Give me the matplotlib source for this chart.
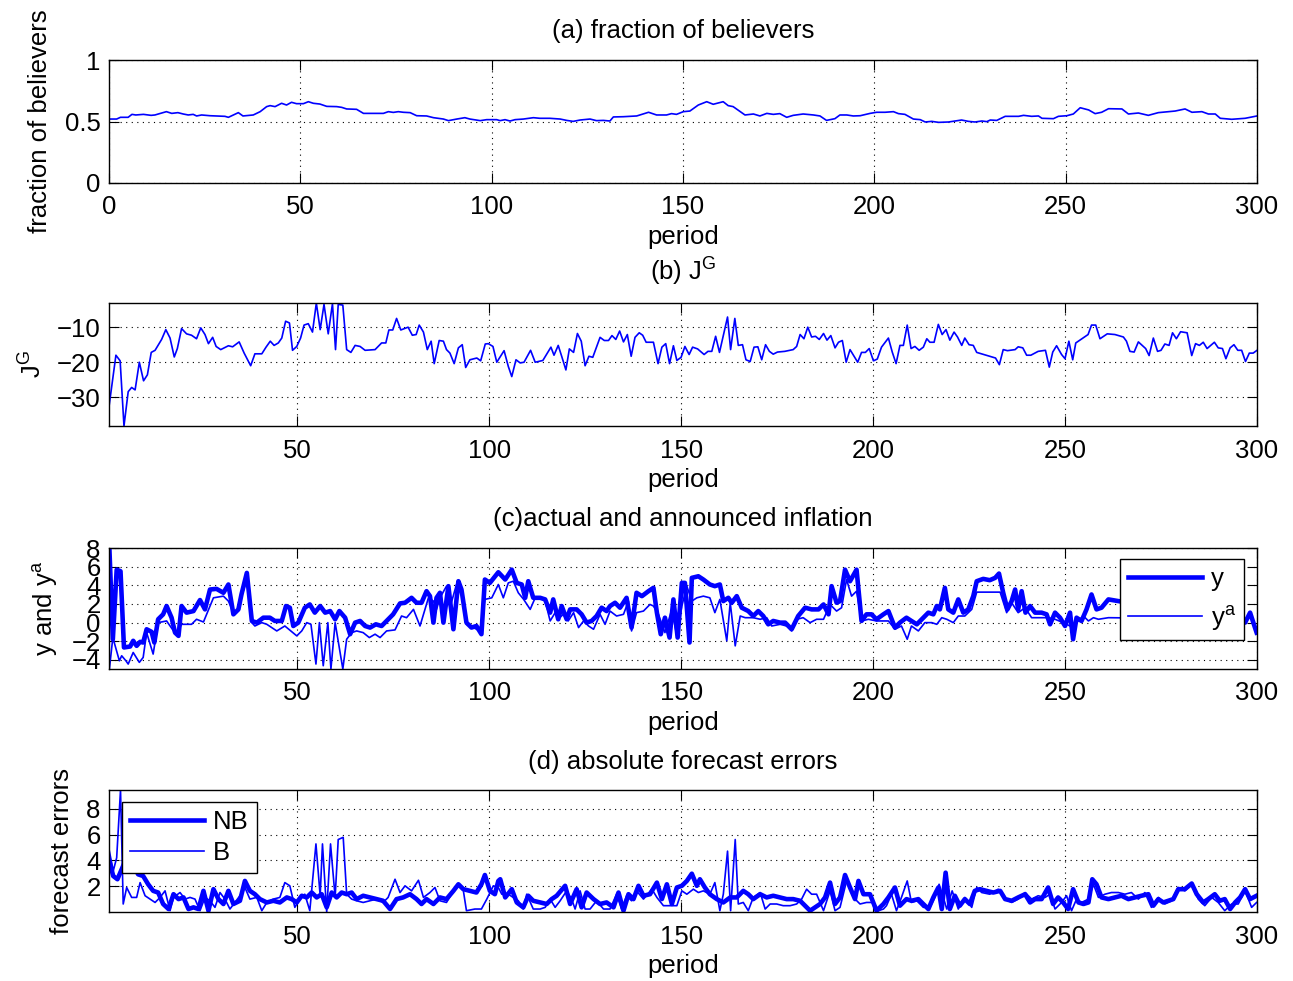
import matplotlib
matplotlib.use('AGG')
import matplotlib.pyplot as plt

# ---- data (period, value) ----
believers = [
    (0, 0.52), (2, 0.52), (3, 0.534), (5, 0.534), (6, 0.558), (7, 0.553), (9, 0.558), (11, 0.55), (12, 0.553), (15, 0.58),
    (16.4, 0.566), (18, 0.572), (19.4, 0.561), (20.7, 0.553), (22, 0.558), (22.9, 0.545), (24.2, 0.553), (26.4, 0.547), (30.3, 0.542), (31.2, 0.534),
    (33.8, 0.572), (35, 0.545), (37.7, 0.553), (39.5, 0.58), (41.2, 0.621), (42.1, 0.629), (43.4, 0.621), (45.1, 0.648), (46.4, 0.634), (47.7, 0.656),
    (49, 0.645), (50.8, 0.645), (52.1, 0.661), (53.4, 0.648), (55.1, 0.642), (56.9, 0.623), (59.5, 0.621), (60.8, 0.615), (62.1, 0.602), (64.7, 0.599),
    (66.5, 0.566), (71.7, 0.566), (73, 0.58), (74.3, 0.574), (75.6, 0.58), (76.9, 0.575), (78.7, 0.572), (80.4, 0.547), (83, 0.545), (84.8, 0.531),
    (87.4, 0.52), (88.7, 0.507), (90.9, 0.52), (93, 0.531), (94.3, 0.52), (97, 0.507), (98.7, 0.515), (101.3, 0.515), (102.2, 0.507), (103.5, 0.515),
    (104.8, 0.504), (106.1, 0.515), (108.3, 0.52), (110.9, 0.531), (112.6, 0.526), (115.2, 0.526), (117.9, 0.52), (119.6, 0.509), (121.3, 0.501), (123.1, 0.512),
    (125.7, 0.52), (127.4, 0.507), (129.2, 0.509), (130.9, 0.504), (131.8, 0.537), (134.4, 0.539), (137.9, 0.545), (141, 0.575), (143.1, 0.553), (145.7, 0.553),
    (147, 0.564), (148.3, 0.558), (150.1, 0.58), (151.8, 0.585), (154, 0.634), (156.2, 0.661), (157.9, 0.64), (160.5, 0.661), (161.8, 0.629), (163.1, 0.621),
    (166.2, 0.553), (168.4, 0.561), (170.1, 0.545), (171.9, 0.566), (173.6, 0.558), (175.3, 0.564), (177.1, 0.534), (178.8, 0.55), (181.4, 0.561), (184.1, 0.553),
    (185.8, 0.545), (187.5, 0.509), (189.7, 0.523), (191, 0.553), (192.8, 0.553), (194.5, 0.545), (196.3, 0.547), (198.9, 0.566), (200.6, 0.575), (202.8, 0.575),
    (205, 0.58), (206.3, 0.564), (208, 0.558), (210.2, 0.52), (212, 0.515), (213.3, 0.496), (215, 0.501), (216.8, 0.493), (219.4, 0.496), (222.8, 0.512),
    (224.6, 0.501), (226.3, 0.496), (228.1, 0.504), (229.4, 0.499), (230.3, 0.512), (232, 0.509), (234.2, 0.542), (237.7, 0.542), (239, 0.55), (241.1, 0.542),
    (242.9, 0.545), (243.8, 0.526), (246.8, 0.523), (248.1, 0.542), (250.3, 0.547), (252, 0.561), (253.8, 0.612), (256, 0.594), (257.7, 0.564), (259.4, 0.575),
    (261.2, 0.604), (264.7, 0.602), (266.4, 0.561), (269, 0.569), (271.6, 0.55), (274.2, 0.572), (276.9, 0.58), (278.6, 0.585), (281.2, 0.602), (283, 0.575),
    (285.6, 0.58), (287.3, 0.561), (289.1, 0.561), (290.4, 0.526), (293.4, 0.518), (296.9, 0.526), (299.5, 0.542), (300, 0.545),
]

jg = [
    (1, -32.7), (2.8, -18.0), (3.9, -19.6), (4.9, -38.2), (6.0, -28.4), (6.9, -27.2), (7.8, -27.9), (8.9, -20.0), (10, -25.3), (11, -23.6),
    (12, -17.2), (13, -16.6), (14.7, -13.5), (15.8, -10.7), (16.9, -13.1), (18, -18.5), (18.8, -16.1), (19.9, -10.4), (21.2, -11.9), (22.5, -12.3),
    (23.8, -13.3), (24.9, -10.2), (26, -12.1), (26.9, -14.7), (28, -12.9), (28.9, -15.5), (30.1, -16.4), (32.1, -15.3), (33.2, -15.6), (34.9, -14.2),
    (36.2, -17.4), (37.9, -21.0), (39, -17.6), (40.8, -17.6), (41.9, -15.7), (43, -14.0), (44, -15.2), (45.1, -14.5), (46, -13.1), (47, -8.3),
    (48, -8.8), (48.8, -16.6), (49.9, -15.5), (50.9, -13.1), (51.8, -9.4), (52.9, -9.0), (54, -11.4), (55, -3.1), (56, -10.7), (57, -3.5),
    (58.1, -11.9), (59.2, -3.3), (60, -16.4), (60.7, -3.5), (61.9, -3.7), (62.9, -16.4), (64, -17.2), (65.1, -15.2), (66.4, -15.5), (67.7, -16.6),
    (70.3, -16.4), (72, -14.5), (73.1, -14.5), (73.9, -10.8), (74.9, -10.8), (75.9, -7.5), (77, -10.8), (78.9, -10.0), (80, -12.3), (81, -12.1),
    (81.8, -9.4), (82.9, -11.4), (83.9, -16.4), (84.9, -14.0), (85.7, -20.4), (87, -13.8), (88.1, -14.0), (88.9, -16.4), (89.8, -17.4), (90.9, -20.4),
    (92, -15.9), (93, -15.0), (93.9, -21.5), (95, -19.3), (96.8, -18.8), (97.8, -19.6), (99, -14.8), (99.8, -14.7), (101, -15.5), (102, -20.0),
    (103.9, -16.7), (105, -21.2), (105.9, -24.1), (107, -19.3), (108.1, -20.2), (109.1, -20.0), (110.8, -16.6), (112, -20.0), (114, -19.5), (115, -17.7),
    (116.1, -15.7), (116.9, -18.0), (118, -15.2), (118.9, -18.3), (120, -22.2), (120.9, -16.2), (122, -17.2), (123, -11.8), (124, -14.0), (125, -21.0),
    (126, -18.3), (127, -18.6), (128.9, -12.9), (130, -13.8), (131.1, -13.8), (132, -12.4), (133, -13.5), (134, -11.1), (135, -14.2), (136, -12.1),
    (137, -18.3), (138, -12.9), (139.1, -11.6), (140, -12.3), (140.9, -14.3), (142.8, -14.3), (144, -20.4), (145, -15.7), (146, -14.7), (147, -20.4),
    (148, -15.3), (148.9, -19.5), (150, -18.6), (151, -15.5), (152.1, -17.8), (153, -15.7), (154.3, -16.2), (156, -17.8), (157, -16.9), (158, -16.9),
    (159, -12.6), (160, -17.2), (162.1, -7.1), (162.9, -16.4), (164, -7.5), (164.9, -15.2), (166, -15.0), (166.9, -19.3), (168, -19.8), (169, -15.7),
    (170, -15.6), (171, -19.3), (172, -15.0), (173, -16.9), (174, -17.7), (175.1, -17.1), (177, -16.9), (179.2, -16.4), (180.1, -15.5), (181, -12.1),
    (182, -13.3), (183, -10.0), (184, -12.8), (185, -12.6), (186, -13.5), (187.1, -11.8), (188, -13.7), (189, -12.4), (190.1, -15.9), (191, -14.3),
    (192, -13.8), (193, -20.0), (194, -16.4), (196, -20.0), (197, -17.2), (198, -17.2), (199, -16.1), (200.1, -19.6), (201.1, -19.1), (202.2, -15.7),
    (204, -13.1), (205, -17.1), (206, -20.4), (207, -15.2), (207.9, -15.2), (208.9, -9.4), (209.9, -16.1), (210.9, -15.5), (212, -16.6), (213.1, -15.7),
    (214, -13.3), (214.8, -14.3), (215.9, -14.3), (217, -9.2), (218, -12.1), (219, -10.7), (220, -13.7), (221.1, -11.4), (222, -12.8), (223.1, -15.2),
    (223.9, -13.1), (225, -15.0), (226.1, -15.2), (227, -17.2), (231.9, -18.8), (232.9, -20.7), (233.9, -16.4), (235, -16.7), (237, -16.4), (237.8, -15.6),
    (239, -15.9), (240, -18.0), (241.1, -18.0), (243, -16.9), (244.9, -16.6), (245.9, -21.4), (246.8, -17.1), (247.8, -15.3), (249.1, -17.8), (250, -19.0),
    (251, -14.0), (252, -19.3), (252.8, -14.5), (256, -12.1), (256.9, -9.4), (258, -9.4), (259.1, -13.3), (261, -11.9), (263, -12.1), (265.2, -12.8),
    (266, -14.0), (266.9, -16.9), (268, -17.1), (269.1, -14.2), (269.9, -15.0), (271, -16.1), (271.9, -18.1), (273, -13.1), (274.1, -16.9), (275, -16.6),
    (276, -14.8), (277.1, -15.2), (278, -11.6), (279, -13.3), (280.1, -11.3), (281.8, -11.6), (283, -18.1), (284, -14.7), (285, -15.2), (286, -14.3),
    (287, -16.1), (288.9, -14.3), (289.9, -15.9), (291, -16.1), (291.9, -19.0), (293, -15.9), (294, -15.0), (295, -16.6), (296, -16.6), (297, -19.8),
    (298, -17.4), (299, -17.4), (300, -16.6),
]

infl_y = [
    (1.1, 7.99), (2.0, -1.78), (3.0, 5.68), (4.0, 5.51), (4.9, -2.66), (6.5, -2.56), (7.3, -1.95), (8.2, -2.49), (9.1, -2.06), (9.9, -2.13),
    (10.8, -0.71), (12.1, -0.99), (12.8, -2.13), (13.8, 0.36), (15.1, 0.89), (16.0, 1.78), (17.3, 0.53), (18.2, -1.07), (19.1, -1.42), (19.9, 1.78),
    (21.2, 1.07), (23.0, 1.24), (24.7, 2.42), (26.0, 1.42), (27.3, 3.55), (29.0, 3.62), (30.8, 3.20), (32.1, 4.09), (33.4, 0.89), (34.7, 1.42),
    (35.5, 3.02), (36.9, 5.33), (38.2, 0.18), (39.5, 0.0), (41.2, 0.53), (42.9, 0.53), (44.2, 0.18), (46.0, 0.18), (47.1, 1.78), (48.1, 1.60),
    (49.0, -0.36), (50.3, 0.0), (52.0, 1.60), (53.3, 1.95), (54.6, 1.07), (56.0, 1.78), (57.3, 1.07), (58.6, 1.24), (59.9, 0.36), (61.0, 1.24),
    (62.5, 0.53), (63.8, -1.24), (65.1, 0.0), (66.4, 0.18), (67.7, -0.36), (69.0, -0.53), (70.5, -0.18), (72.0, -0.36), (73.3, 0.18), (75.0, 0.89),
    (76.8, 2.06), (78.1, 2.13), (79.8, 2.66), (81.1, 2.13), (82.4, 2.13), (83.7, 3.37), (84.6, 2.84), (85.5, 0.0), (86.3, 2.66), (87.2, 3.20),
    (88.1, 0.0), (89.4, 3.91), (90.7, -0.71), (92.0, 4.44), (92.8, 3.55), (94.1, 0.0), (95.4, -0.53), (96.7, -0.36), (98.0, -1.24), (98.9, 4.62),
    (100.2, 4.26), (102.4, 5.40), (104.2, 4.62), (105.9, 5.68), (107.2, 4.26), (108.5, 4.09), (109.4, 2.66), (110.2, 4.44), (111.5, 2.66), (113.3, 2.66),
    (114.6, 2.49), (115.9, 1.07), (116.7, 2.49), (118.0, 0.36), (118.9, 1.78), (120.2, 0.36), (121.1, 1.42), (122.8, 1.42), (124.1, 0.89), (125.4, 0.0),
    (126.7, 0.18), (128.0, 0.71), (129.3, 1.60), (130.6, 1.24), (131.5, 1.78), (132.8, 2.13), (134.1, 1.60), (135.8, 2.66), (137.1, -0.53), (138.4, 3.20),
    (139.8, 2.84), (141.5, 3.37), (142.8, 3.73), (143.7, 1.07), (144.7, -1.24), (145.8, 0.53), (147.0, -1.60), (148.0, 2.49), (149.1, -1.60), (150.2, 4.26),
    (151.0, 4.26), (152.2, -2.13), (152.8, 4.80), (154.5, 4.97), (155.8, 4.62), (157.5, 4.09), (158.8, 3.91), (160.1, 4.09), (161.0, 2.31), (162.3, 2.66),
    (163.2, 2.13), (164.5, 2.84), (165.8, 1.60), (167.5, 1.24), (168.8, 0.71), (170.1, 1.24), (171.4, 0.71), (172.7, -0.18), (174.0, 0.18), (175.8, 0.0),
    (177.1, 0.0), (178.8, -0.71), (180.5, 0.71), (182.3, 1.60), (184.0, 1.42), (185.8, 1.42), (187.1, 1.95), (188.4, 0.89), (189.2, 3.91), (190.5, 2.13),
    (191.4, 2.31), (192.7, 5.68), (194.0, 4.44), (195.7, 5.68), (197.0, 0.18), (198.3, 0.89), (199.6, 0.89), (200.9, 0.36), (202.7, 0.89), (204.0, 1.24),
    (205.7, -0.53), (207.0, 0.0), (208.7, 0.53), (210.0, 0.18), (211.4, -0.18), (213.1, 0.53), (214.4, 1.07), (215.7, 0.89), (216.6, 1.78), (217.4, 1.42),
    (218.7, 3.73), (219.6, 1.42), (220.9, 1.07), (222.2, 2.49), (223.5, 1.07), (224.8, 1.42), (226.1, 2.84), (227.0, 4.44), (228.7, 4.69), (230.4, 4.55),
    (231.8, 4.80), (232.8, 5.26), (233.9, 3.20), (235.0, 1.42), (236.1, 2.31), (237.0, 3.55), (237.8, 1.42), (238.7, 3.37), (239.7, 1.07), (240.9, 1.78),
    (242.2, 1.07), (243.9, 1.07), (245.2, 0.89), (246.1, -0.18), (247.4, 1.07), (248.7, 0.53), (250.0, -0.36), (251.3, 1.07), (252.1, -1.78), (253.0, 0.53),
    (254.3, 0.18), (255.6, 1.42), (256.9, 3.02), (258.2, 1.42), (259.5, 1.60), (261.3, 2.49), (296.9, 0.0), (298.2, 1.07), (299.9, -1.07),
]

infl_ya = [
    (1.1, -4.97), (2.0, -1.60), (3.7, -4.09), (4.3, -3.55), (5.4, -4.09), (6.0, -4.44), (7.3, -3.20), (8.9, -4.26), (9.9, -3.73), (10.8, -1.07),
    (12.5, -3.37), (13.8, 0.0), (16.0, 0.18), (18.4, -1.24), (19.9, -0.18), (22.5, -0.18), (23.8, 0.36), (25.6, 0.07), (28.2, 2.66), (30.8, 2.84),
    (32.1, 2.31), (33.4, 1.07), (34.2, 1.07), (36.9, 4.62), (38.2, 0.0), (39.0, -0.36), (40.8, 0.0), (42.1, -0.18), (44.7, -0.89), (46.8, -0.36),
    (49.9, -1.42), (51.2, -0.89), (52.5, 0.0), (53.6, -0.18), (54.9, -4.44), (55.8, 0.0), (56.8, -4.62), (58.0, 0.0), (58.8, -4.97), (59.9, 0.0),
    (61.9, -4.97), (62.9, -1.78), (64.2, -1.07), (65.5, -0.89), (67.2, -1.07), (68.8, -1.60), (70.3, -1.24), (71.6, -1.60), (73.3, -0.89), (75.5, -0.78),
    (77.2, 0.71), (78.5, 0.53), (80.3, 1.42), (82.0, -0.36), (84.2, 2.66), (85.5, 2.31), (86.3, 1.42), (87.2, 2.66), (88.9, 3.91), (89.8, 1.60),
    (91.5, 4.09), (92.8, 3.55), (94.1, -0.18), (95.9, -0.53), (97.6, -0.89), (98.9, 2.49), (100.7, 2.66), (102.4, 4.09), (103.7, 2.66), (105.0, 4.26),
    (106.3, 4.44), (107.6, 3.20), (109.0, 2.49), (110.7, 1.42), (112.0, 2.66), (113.3, 2.66), (114.6, 2.31), (115.9, 0.18), (117.2, 1.07), (118.0, 0.36),
    (119.3, 0.89), (120.6, 0.18), (122.0, 1.07), (123.3, -0.53), (124.6, 0.18), (125.9, -0.36), (127.2, -0.71), (128.9, 0.89), (130.2, -0.18), (131.5, 1.24),
    (133.2, 0.71), (135.0, 0.89), (136.3, 2.31), (137.1, -0.89), (138.4, 1.07), (140.2, 1.24), (141.9, 1.95), (142.8, 1.78), (144.1, 0.89), (145.8, -1.07),
    (147.6, 1.42), (148.9, -1.42), (150.2, 1.78), (151.5, 3.91), (152.8, 2.31), (154.1, 2.66), (155.8, 2.84), (157.5, 2.66), (158.8, 1.07), (160.1, 2.49),
    (161.9, -1.95), (162.8, 2.13), (164.1, -2.49), (165.4, 0.71), (166.7, 0.53), (168.8, 0.53), (170.6, 0.36), (172.3, 0.53), (173.6, -0.36), (175.8, -0.18),
    (177.5, -0.36), (178.8, -0.89), (180.1, 0.36), (181.8, 0.53), (183.6, 0.0), (185.3, 0.36), (187.1, 0.36), (188.8, 1.95), (190.5, 1.24), (191.8, 1.60),
    (193.1, 4.62), (194.4, 2.84), (195.7, 3.37), (197.0, 0.18), (198.8, 0.36), (200.9, 0.18), (202.7, 0.18), (204.0, 0.18), (205.7, -0.71), (207.4, -0.36),
    (208.9, -1.78), (210.0, -0.36), (211.8, -0.89), (213.5, 0.0), (215.3, 0.0), (216.6, -0.18), (217.9, 0.53), (219.2, 0.36), (220.9, 0.0), (222.2, 0.71),
    (223.9, 0.71), (225.7, 1.42), (227.0, 3.27), (230.9, 3.27), (233.1, 3.27), (234.8, 1.07), (236.1, 2.13), (237.8, 1.07), (239.6, 1.60), (241.3, 0.53),
    (243.9, 0.53), (245.6, 0.53), (247.4, 0.36), (249.5, 0.0), (251.3, -0.36), (253.0, 0.0), (254.8, 0.71), (256.1, 0.18), (257.4, 0.53), (258.7, 0.36),
    (261.3, 0.53), (296.9, 0.36), (298.2, 0.89), (299.9, -0.89),
]

err_nb = [
    (1.1, 3.95), (2.1, 2.79), (3.2, 2.54), (6.0, 4.5), (7.5, 3.5), (8.6, 2.92), (9.9, 2.79), (11.2, 2.15), (12.5, 1.64), (13.8, 1.51),
    (15.1, 0.62), (16.5, 0.23), (17.8, 1.38), (19.1, 1.00), (20.4, 1.13), (21.7, 0.23), (23.0, 0.36), (24.3, 0.23), (25.6, 1.64), (26.9, 0.10),
    (28.2, 1.77), (29.5, 1.00), (30.8, 0.62), (32.1, 1.64), (33.4, 0.62), (35.1, 0.87), (36.4, 2.41), (37.7, 1.64), (39.0, 1.38), (40.3, 1.00),
    (42.1, 0.74), (43.8, 0.87), (45.5, 0.74), (47.3, 1.13), (48.6, 1.00), (49.9, 0.74), (51.2, 1.26), (52.5, 1.13), (53.8, 1.51), (55.1, 1.13),
    (56.4, 1.38), (57.7, 0.36), (59.0, 1.51), (60.3, 1.13), (61.6, 1.51), (62.9, 1.38), (64.2, 1.51), (65.5, 1.00), (67.2, 1.26), (69.0, 1.13),
    (70.7, 1.00), (72.4, 0.87), (74.2, 0.23), (75.9, 1.00), (77.6, 1.13), (79.4, 1.38), (81.1, 1.00), (82.4, 0.62), (83.7, 1.00), (85.5, 0.62),
    (87.2, 1.13), (88.9, 1.00), (90.7, 1.64), (92.0, 2.15), (93.3, 1.77), (95.0, 1.64), (96.7, 1.51), (98.0, 2.15), (98.9, 2.87), (100.2, 1.64),
    (101.5, 1.38), (102.4, 2.41), (102.9, 2.54), (104.2, 1.13), (105.9, 1.77), (107.2, 0.74), (108.9, 0.36), (110.2, 1.26), (111.5, 0.87), (113.3, 0.74),
    (115.0, 0.62), (116.3, 1.00), (117.6, 1.26), (119.8, 2.03), (121.1, 0.62), (122.8, 1.77), (124.1, 0.36), (125.4, 1.51), (127.2, 1.00), (128.9, 0.62),
    (130.6, 0.74), (132.4, 0.36), (133.7, 1.51), (135.0, 0.10), (136.3, 1.38), (137.6, 1.00), (138.9, 2.03), (140.2, 1.26), (141.9, 1.38), (143.7, 2.28),
    (145.0, 1.00), (146.3, 2.15), (147.6, 0.62), (148.9, 1.90), (150.2, 2.03), (151.5, 2.41), (152.8, 2.97), (154.1, 2.03), (154.9, 2.54), (156.2, 1.90),
    (157.5, 1.38), (159.3, 1.00), (161.0, 0.74), (162.8, 1.13), (164.5, 1.13), (166.2, 1.64), (167.5, 1.38), (168.8, 1.00), (170.6, 1.38), (172.3, 1.13),
    (174.0, 1.26), (175.8, 1.13), (177.5, 1.00), (179.2, 1.00), (181.0, 0.87), (182.3, 0.49), (183.6, 0.10), (184.9, 0.36), (186.2, 0.62), (187.5, 1.13),
    (188.8, 2.28), (190.1, 0.62), (191.4, 1.13), (192.7, 2.87), (194.0, 1.90), (195.3, 1.00), (196.2, 2.41), (197.5, 1.38), (199.2, 1.38), (200.9, 0.10),
    (202.7, 0.62), (204.0, 1.13), (205.7, 1.90), (207.0, 0.49), (208.7, 1.00), (210.0, 0.87), (211.8, 1.00), (213.1, 0.62), (214.4, 0.23), (215.7, 1.13),
    (217.0, 1.90), (217.9, 0.23), (218.9, 3.05), (220.0, 0.23), (221.3, 1.26), (222.6, 0.49), (223.9, 1.00), (225.2, 0.62), (226.5, 1.64), (227.8, 1.77),
    (229.6, 1.64), (231.3, 1.51), (233.1, 1.64), (234.4, 1.00), (236.1, 0.87), (237.8, 1.13), (239.6, 1.38), (240.9, 0.74), (242.2, 1.00), (243.9, 1.00),
    (245.6, 1.90), (246.9, 0.62), (248.2, 1.13), (249.5, 0.74), (250.8, 0.23), (252.1, 1.77), (253.5, 0.74), (254.8, 0.62), (256.1, 0.74), (257.1, 2.54),
    (258.2, 2.15), (259.5, 1.13), (261.3, 1.00), (263.0, 1.13), (264.7, 1.26), (266.5, 1.00), (268.2, 1.13), (269.9, 1.26), (271.7, 1.38), (273.0, 0.49),
    (274.3, 1.00), (275.6, 0.74), (276.9, 0.87), (278.2, 1.00), (279.5, 1.77), (281.2, 1.77), (283.0, 2.21), (284.3, 1.38), (286.0, 0.74), (287.3, 1.00),
    (289.0, 1.38), (290.3, 0.87), (291.6, 1.00), (293.0, 0.23), (294.3, 0.74), (295.6, 1.13), (296.9, 1.77), (298.2, 1.00), (299.9, 1.26),
]

err_b = [
    (1.1, 4.72), (2.1, 3.18), (3.0, 4.21), (4.0, 9.46), (4.7, 0.62), (5.6, 1.90), (6.9, 1.13), (8.2, 1.13), (9.1, 2.28), (10.4, 1.26),
    (11.7, 1.00), (13.0, 0.74), (14.3, 1.13), (15.6, 1.64), (16.9, 0.10), (17.8, 1.13), (19.5, 1.51), (20.8, 1.00), (22.1, 1.13), (23.4, 1.00),
    (24.7, 0.10), (26.0, 1.13), (27.3, 0.87), (28.6, 0.36), (29.9, 1.51), (31.2, 1.00), (32.5, 0.23), (33.8, 0.74), (35.1, 1.26), (36.4, 1.90),
    (37.7, 1.00), (39.5, 1.13), (40.8, 0.10), (42.1, 0.74), (43.8, 1.00), (45.5, 1.13), (46.8, 2.28), (48.1, 2.03), (49.4, 0.36), (50.7, 1.00),
    (52.0, 1.38), (53.3, 0.10), (54.9, 5.28), (56.0, 1.26), (56.6, 5.28), (57.7, 0.0), (58.7, 5.28), (59.9, 1.13), (60.7, 5.62), (62.0, 5.79),
    (62.9, 1.38), (64.2, 1.00), (65.5, 0.87), (67.2, 0.74), (69.0, 0.87), (70.7, 1.00), (72.4, 0.74), (73.7, 1.13), (75.5, 2.54), (76.8, 1.51),
    (78.1, 2.03), (79.8, 1.64), (81.6, 2.46), (82.9, 1.13), (84.6, 1.51), (85.9, 1.90), (87.2, 0.87), (88.9, 0.74), (90.7, 1.64), (92.0, 2.03),
    (93.3, 1.64), (94.1, 0.10), (96.3, 0.23), (98.0, 0.23), (99.4, 1.00), (101.1, 2.03), (102.4, 1.90), (103.3, 1.38), (105.0, 1.38), (106.3, 1.13),
    (107.6, 0.87), (108.9, 0.23), (109.8, 1.38), (111.5, 0.23), (113.3, 0.23), (114.6, 0.36), (115.9, 1.00), (117.2, 0.36), (118.5, 0.87), (120.2, 1.64),
    (121.5, 1.00), (122.4, 0.23), (123.7, 1.64), (125.0, 0.23), (126.3, 0.23), (128.0, 0.87), (129.8, 0.23), (131.5, 0.23), (133.2, 1.38), (134.5, 0.23),
    (135.8, 1.26), (137.1, 0.87), (138.4, 1.64), (140.2, 1.00), (142.4, 1.77), (143.7, 1.13), (145.4, 0.49), (147.1, 0.49), (148.9, 0.49), (150.2, 1.64),
    (151.5, 1.38), (153.2, 1.77), (154.5, 1.51), (155.8, 1.64), (157.5, 1.38), (158.8, 2.28), (160.1, 0.10), (161.0, 1.38), (162.1, 4.72), (162.9, 0.10),
    (164.1, 5.62), (164.9, 0.62), (166.2, 0.74), (167.5, 0.10), (168.8, 1.13), (170.6, 1.51), (171.9, 0.23), (173.2, 0.62), (174.9, 0.62), (176.6, 0.49),
    (178.4, 0.49), (180.1, 0.62), (181.4, 1.00), (182.7, 1.77), (184.0, 1.38), (185.3, 1.38), (187.1, 0.10), (188.8, 1.64), (190.1, 0.10), (191.4, 0.36),
    (193.1, 2.41), (194.9, 1.13), (196.6, 0.62), (198.3, 0.74), (200.1, 0.74), (201.4, 0.10), (202.7, 0.23), (203.5, 0.49), (204.8, 1.38), (206.1, 0.10),
    (207.4, 1.13), (208.9, 2.41), (210.0, 0.74), (211.4, 0.87), (213.1, 0.36), (214.8, 0.36), (216.1, 1.13), (217.2, 2.15), (218.3, 1.13), (219.2, 0.23),
    (220.6, 1.64), (222.2, 0.23), (223.9, 1.13), (225.7, 0.36), (227.0, 1.90), (228.3, 1.51), (230.4, 1.38), (232.6, 1.77), (234.4, 1.00), (236.1, 0.74),
    (237.8, 1.00), (239.6, 1.51), (241.3, 1.00), (243.0, 1.26), (244.8, 1.13), (246.1, 1.38), (247.4, 0.23), (249.1, 0.74), (250.4, 1.26), (251.7, 0.10),
    (253.0, 1.00), (254.3, 0.74), (256.1, 1.00), (257.4, 2.15), (258.7, 1.13), (260.4, 1.38), (262.1, 1.51), (263.9, 1.51), (265.6, 1.38), (267.3, 1.51),
    (269.1, 1.00), (270.8, 1.51), (272.5, 0.36), (274.3, 1.13), (276.0, 0.62), (277.8, 0.87), (279.5, 1.90), (281.2, 1.64), (283.0, 2.15), (284.7, 1.00),
    (286.4, 0.49), (288.2, 1.13), (289.9, 0.74), (291.6, 0.10), (293.4, 0.62), (295.1, 0.62), (296.9, 1.64), (298.6, 0.36), (299.9, 0.74),
]

titles = ['(a) fraction of believers', '(b) J$^G$', '(c)actual and announced inflation', '(d) absolute forecast errors']
ylabels = ['fraction of believers', 'J$^G$', 'y and y$^a$', 'forecast errors']

# ---- styling ----
plt.rcParams['font.family'] = ['Liberation Sans', 'DejaVu Sans']
plt.rcParams['mathtext.default'] = 'regular'
FS = 18.5
BLUE = (0, 0, 1)
THIN, THICK = 1.2, 3.3

W, H = 1293, 981
fig = plt.figure(figsize=(W / 100, H / 100), dpi=100)

# axes boxes in pixels: left, top, right, bottom
boxes = [(109, 60, 1257, 183), (109, 303, 1257, 426), (109, 548, 1257, 669), (109, 790, 1257, 912)]
ylab_x = [40, 33, 45, 62]
title_off = [29, 31, 29, 28]

axes = []
for (l, t, r, b) in boxes:
    axes.append(fig.add_axes([l / W, 1 - b / H, (r - l) / W, (b - t) / H]))


def unzip(pairs):
    return [p[0] for p in pairs], [p[1] for p in pairs]


def style(ax, i, yticks, xticks):
    l, t, r, b = boxes[i]
    ax.set_xticks(xticks)
    ax.set_yticks(yticks)
    ax.tick_params(direction='in', top=True, right=True, length=7, width=0.8,
                   labelsize=FS)
    ax.tick_params(axis='x', pad=9)
    ax.tick_params(axis='y', pad=6)
    ax.grid(True, linestyle=(0, (1, 4)), color='k', linewidth=0.8)
    for s in ax.spines.values():
        s.set_linewidth(1.0)
    ax.set_xlabel('period', fontsize=FS, va='center')
    ax.xaxis.set_label_coords(0.5, -54 / (b - t))
    ax.set_ylabel(ylabels[i], fontsize=FS, va='center')
    ax.yaxis.set_label_coords(-(l - ylab_x[i]) / (r - l), 0.5)
    ax.annotate(titles[i], xy=(0.5, 1), xycoords='axes fraction',
                xytext=(0, title_off[i] * 0.72), textcoords='offset points',
                ha='center', va='center', fontsize=FS)


# (a)
ax = axes[0]
x, y = unzip(believers)
ax.plot(x, y, color=BLUE, lw=THIN)
ax.set_xlim(0, 300)
ax.set_ylim(0, 1)
style(ax, 0, [0, 0.5, 1], range(0, 301, 50))
ax.set_yticklabels(['0', '0.5', '1'])

# (b)
ax = axes[1]
x, y = unzip(jg)
ax.plot(x, y, color=BLUE, lw=THIN)
ax.set_xlim(1, 300)
ax.set_ylim(min(y), max(y))
style(ax, 1, [-30, -20, -10], range(50, 301, 50))

# (c)
ax = axes[2]
x1, y1 = unzip(infl_y)
x2, y2 = unzip(infl_ya)
ax.plot(x1, y1, color=BLUE, lw=THICK, label='y')
ax.plot(x2, y2, color=BLUE, lw=THIN, label='y$^a$')
ax.set_xlim(1, 300)
ax.set_ylim(min(y1 + y2), max(y1 + y2))
style(ax, 2, range(-4, 9, 2), range(50, 301, 50))
leg = ax.legend(loc='upper right', bbox_to_anchor=(1 - 13 / 1148, 1 - 11 / 121),
                borderaxespad=0, fancybox=False, edgecolor='k', framealpha=1,
                handlelength=2.9, handletextpad=0.35, fontsize=FS,
                borderpad=0.3, labelspacing=0.5)
leg.get_frame().set_linewidth(1.0)

# (d)
ax = axes[3]
x1, y1 = unzip(err_nb)
x2, y2 = unzip(err_b)
ax.plot(x1, y1, color=BLUE, lw=THICK, label='NB')
ax.plot(x2, y2, color=BLUE, lw=THIN, label='B')
ax.set_xlim(1, 300)
ax.set_ylim(0, max(y1 + y2))
style(ax, 3, [2, 4, 6, 8], range(50, 301, 50))
leg = ax.legend(loc='upper left', bbox_to_anchor=(13 / 1148, 1 - 12 / 122),
                borderaxespad=0, fancybox=False, edgecolor='k', framealpha=1,
                handlelength=2.9, handletextpad=0.35, fontsize=FS,
                borderpad=0.3, labelspacing=0.3)
leg.get_frame().set_linewidth(1.0)

fig.savefig('out.png', dpi=100)
plt.close(fig)
